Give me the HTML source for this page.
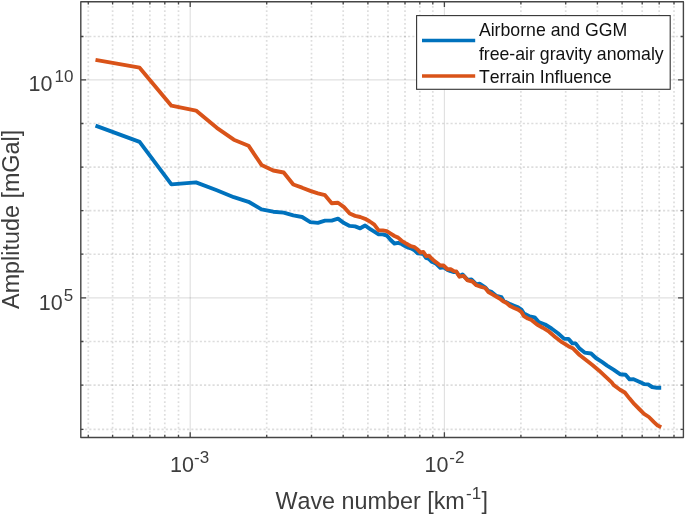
<!DOCTYPE html>
<html><head><meta charset="utf-8"><title>Spectrum</title>
<style>
html,body{margin:0;padding:0;background:#fff;}
body{width:685px;height:517px;overflow:hidden;}
svg{display:block;filter:blur(0.35px);}
text{font-family:"Liberation Sans",sans-serif;fill:#3d3d3d;font-kerning:none;}
.mn{stroke:rgba(30,30,30,0.15);stroke-width:1.7;stroke-dasharray:1.7 2.55;}
.mh{stroke:rgba(30,30,30,0.15);stroke-width:1.6;stroke-dasharray:2.1 2.15;}
.mj{stroke:rgba(38,38,38,0.145);stroke-width:1.15;}
.tk{font-size:21.5px;}
.sp{font-size:17px;}
.lb{font-size:23.35px;}
.lg{font-size:17.7px;fill:#111;}
</style></head><body>
<svg width="685" height="517" viewBox="0 0 685 517">
<rect width="685" height="517" fill="#fff"/>
<g fill="none">
<line x1="88.3" y1="1.75" x2="88.3" y2="437.45" class="mn"/>
<line x1="112.6" y1="1.75" x2="112.6" y2="437.45" class="mn"/>
<line x1="132.8" y1="1.75" x2="132.8" y2="437.45" class="mn"/>
<line x1="149.9" y1="1.75" x2="149.9" y2="437.45" class="mn"/>
<line x1="164.8" y1="1.75" x2="164.8" y2="437.45" class="mn"/>
<line x1="178.5" y1="1.75" x2="178.5" y2="437.45" class="mn"/>
<line x1="266.7" y1="1.75" x2="266.7" y2="437.45" class="mn"/>
<line x1="311.5" y1="1.75" x2="311.5" y2="437.45" class="mn"/>
<line x1="343.2" y1="1.75" x2="343.2" y2="437.45" class="mn"/>
<line x1="367.9" y1="1.75" x2="367.9" y2="437.45" class="mn"/>
<line x1="388.0" y1="1.75" x2="388.0" y2="437.45" class="mn"/>
<line x1="405.0" y1="1.75" x2="405.0" y2="437.45" class="mn"/>
<line x1="419.8" y1="1.75" x2="419.8" y2="437.45" class="mn"/>
<line x1="432.8" y1="1.75" x2="432.8" y2="437.45" class="mn"/>
<line x1="520.9" y1="1.75" x2="520.9" y2="437.45" class="mn"/>
<line x1="565.7" y1="1.75" x2="565.7" y2="437.45" class="mn"/>
<line x1="597.4" y1="1.75" x2="597.4" y2="437.45" class="mn"/>
<line x1="622.1" y1="1.75" x2="622.1" y2="437.45" class="mn"/>
<line x1="642.2" y1="1.75" x2="642.2" y2="437.45" class="mn"/>
<line x1="659.2" y1="1.75" x2="659.2" y2="437.45" class="mn"/>
<line x1="674.0" y1="1.75" x2="674.0" y2="437.45" class="mn"/>
<line x1="80.8" y1="429.4" x2="683.35" y2="429.4" class="mh"/>
<line x1="80.8" y1="385.1" x2="683.35" y2="385.1" class="mh"/>
<line x1="80.8" y1="341.5" x2="683.35" y2="341.5" class="mh"/>
<line x1="80.8" y1="254.2" x2="683.35" y2="254.2" class="mh"/>
<line x1="80.8" y1="210.6" x2="683.35" y2="210.6" class="mh"/>
<line x1="80.8" y1="167.1" x2="683.35" y2="167.1" class="mh"/>
<line x1="80.8" y1="123.5" x2="683.35" y2="123.5" class="mh"/>
<line x1="80.8" y1="36.5" x2="683.35" y2="36.5" class="mh"/>
<line x1="190.2" y1="1.75" x2="190.2" y2="437.45" class="mj"/>
<line x1="444.4" y1="1.75" x2="444.4" y2="437.45" class="mj"/>
<line x1="80.8" y1="297.9" x2="683.35" y2="297.9" class="mj"/>
<line x1="80.8" y1="79.9" x2="683.35" y2="79.9" class="mj"/>
</g>
<path d="M88.3 437.45v-2.7M88.3 1.75v2.7M112.6 437.45v-2.7M112.6 1.75v2.7M132.8 437.45v-2.7M132.8 1.75v2.7M149.9 437.45v-2.7M149.9 1.75v2.7M164.8 437.45v-2.7M164.8 1.75v2.7M178.5 437.45v-2.7M178.5 1.75v2.7M266.7 437.45v-2.7M266.7 1.75v2.7M311.5 437.45v-2.7M311.5 1.75v2.7M343.2 437.45v-2.7M343.2 1.75v2.7M367.9 437.45v-2.7M367.9 1.75v2.7M388.0 437.45v-2.7M388.0 1.75v2.7M405.0 437.45v-2.7M405.0 1.75v2.7M419.8 437.45v-2.7M419.8 1.75v2.7M432.8 437.45v-2.7M432.8 1.75v2.7M520.9 437.45v-2.7M520.9 1.75v2.7M565.7 437.45v-2.7M565.7 1.75v2.7M597.4 437.45v-2.7M597.4 1.75v2.7M622.1 437.45v-2.7M622.1 1.75v2.7M642.2 437.45v-2.7M642.2 1.75v2.7M659.2 437.45v-2.7M659.2 1.75v2.7M674.0 437.45v-2.7M674.0 1.75v2.7M190.2 437.45v-5.3M190.2 1.75v5.3M444.4 437.45v-5.3M444.4 1.75v5.3M80.8 429.4h2.7M683.35 429.4h-2.7M80.8 385.1h2.7M683.35 385.1h-2.7M80.8 341.5h2.7M683.35 341.5h-2.7M80.8 254.2h2.7M683.35 254.2h-2.7M80.8 210.6h2.7M683.35 210.6h-2.7M80.8 167.1h2.7M683.35 167.1h-2.7M80.8 123.5h2.7M683.35 123.5h-2.7M80.8 36.5h2.7M683.35 36.5h-2.7M80.8 297.9h5.3M683.35 297.9h-5.3M80.8 79.9h5.3M683.35 79.9h-5.3" stroke="#454545" stroke-width="1.3" fill="none"/>
<rect x="80.8" y="1.75" width="602.6" height="435.7" fill="none" stroke="#454545" stroke-width="1.4" stroke-linejoin="round"/>
<path d="M95.5 125.7 L139.6 141.8 L171.4 184.4 L196.0 182.4 L216.8 190.3 L233.8 197.2 L248.5 201.8 L261.5 209.4 L273.2 211.7 L283.7 212.6 L293.3 215.4 L302.1 217.0 L310.3 222.1 L317.9 222.9 L325.0 220.6 L331.7 220.6 L338.0 218.6 L344.0 223.1 L349.7 225.9 L355.1 226.4 L360.2 228.3 L365.1 225.5 L369.8 228.8 L374.3 231.7 L378.6 234.4 L382.8 234.4 L386.8 235.5 L390.7 240.0 L394.4 243.5 L398.1 242.9 L401.6 244.0 L405.0 246.1 L408.3 247.7 L411.5 248.5 L414.6 250.4 L417.6 253.2 L420.5 253.6 L423.4 254.1 L426.2 258.0 L428.9 258.9 L431.6 261.7 L434.2 262.8 L436.2 263.9 L440.3 267.9 L443.5 267.4 L447.5 269.9 L450.7 271.2 L453.9 272.1 L456.3 271.9 L459.5 276.2 L462.5 274.4 L467.6 279.9 L471.4 279.4 L476.4 284.4 L479.5 283.7 L485.2 287.4 L488.4 291.0 L491.0 291.6 L496.5 296.0 L501.5 297.2 L503.7 300.9 L506.9 302.4 L510.1 304.1 L514.1 305.8 L518.1 307.4 L521.4 309.6 L523.8 313.4 L525.0 314.1 L529.8 316.5 L534.6 317.3 L538.7 322.1 L545.1 324.5 L551.5 328.5 L557.9 333.3 L564.3 338.9 L568.4 338.9 L572.4 343.4 L575.6 343.4 L579.6 348.6 L584.6 352.6 L591.1 353.5 L595.9 358.0 L602.3 362.2 L607.1 365.6 L613.5 369.6 L620.0 374.2 L625.6 374.8 L629.6 379.4 L633.6 379.3 L639.2 381.7 L644.1 384.1 L648.1 384.4 L652.1 387.0 L656.9 387.8 L661.2 387.8" fill="none" stroke="#0072BD" stroke-width="3.9" stroke-linejoin="round"/>
<path d="M95.5 59.8 L139.6 67.7 L171.4 105.7 L196.0 110.6 L216.8 127.8 L233.8 139.7 L248.5 145.7 L261.5 164.9 L273.2 170.5 L283.7 172.5 L293.3 184.5 L302.1 187.7 L310.3 190.9 L317.9 193.3 L325.0 195.2 L331.7 203.3 L338.0 202.7 L344.0 207.1 L349.7 213.5 L355.1 215.9 L360.2 217.0 L365.1 218.8 L369.8 221.5 L374.3 224.7 L378.6 230.4 L382.8 230.4 L386.8 231.2 L390.7 233.6 L394.4 236.0 L398.1 237.6 L401.6 240.8 L405.0 242.9 L408.3 244.8 L411.5 246.4 L414.6 247.2 L417.6 249.6 L420.5 252.5 L423.4 252.0 L426.2 256.1 L428.9 255.6 L431.6 258.5 L434.2 260.9 L436.2 262.3 L440.3 265.5 L443.5 265.5 L447.5 269.2 L450.7 269.2 L453.9 271.1 L456.3 271.4 L459.5 276.7 L463.5 275.9 L467.6 280.4 L472.4 281.5 L476.4 285.2 L481.2 286.8 L485.2 288.0 L488.4 292.0 L492.4 294.4 L496.5 296.8 L500.5 299.2 L503.7 301.6 L506.9 303.2 L510.1 306.1 L514.1 308.0 L518.1 309.6 L521.4 312.0 L523.8 316.1 L527.8 318.5 L531.4 319.9 L537.0 324.5 L542.7 327.7 L549.1 331.7 L555.5 337.3 L561.9 342.2 L568.4 346.2 L573.2 348.6 L579.6 355.0 L586.0 360.0 L592.4 365.0 L598.9 370.4 L605.3 376.4 L611.7 382.4 L613.5 384.9 L620.0 389.7 L624.8 392.5 L629.6 398.6 L634.4 404.2 L639.2 409.0 L644.1 413.8 L648.9 417.0 L653.7 421.9 L657.7 425.6 L661.2 427.2" fill="none" stroke="#D95319" stroke-width="3.9" stroke-linejoin="round"/>
<!-- legend -->
<rect x="416.6" y="15.6" width="253.6" height="73.7" fill="#fff" stroke="#333" stroke-width="1.1"/>
<line x1="422" y1="40.5" x2="475.2" y2="40.5" stroke="#0072BD" stroke-width="3.4"/>
<line x1="422" y1="76" x2="475.2" y2="76" stroke="#D95319" stroke-width="3.4"/>
<text class="lg" x="478.9" y="35.7">Airborne and GGM</text>
<text class="lg" x="478.9" y="60.2">free-air gravity anomaly</text>
<text class="lg" x="478.9" y="83.1">Terrain Influence</text>
<!-- y tick labels -->
<text class="tk" x="52.5" y="91.3" text-anchor="end">10</text><text class="sp" x="73.4" y="81.7" text-anchor="end">10</text>
<text class="tk" x="62.7" y="310.4" text-anchor="end">10</text><text class="sp" x="73.1" y="301.2" text-anchor="end">5</text>
<!-- x tick labels -->
<text class="tk" x="424.6" y="472.3">10</text><text class="sp" x="449.3" y="463.1">-2</text>
<text class="tk" x="170" y="472.3">10</text><text class="sp" x="194.1" y="463.1">-3</text>
<!-- axis labels -->
<text class="lb" x="275.4" y="509.1">Wave number [km</text><text class="sp" x="466" y="499.2">-1</text><text class="lb" x="481.4" y="509.1">]</text>
<text class="lb" transform="translate(19.2 308.9) rotate(-90)">Amplitude [mGal]</text>
</svg>
</body></html>
